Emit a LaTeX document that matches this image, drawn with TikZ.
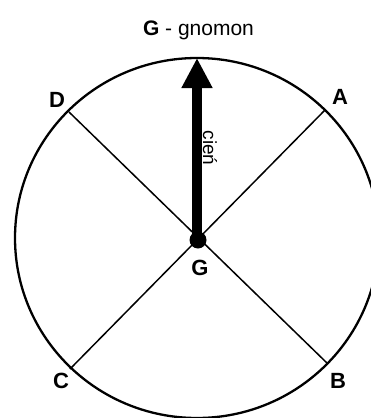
\documentclass[tikz,border=0pt]{standalone}
\usepackage{fontspec}
\setmainfont{Liberation Sans}
\usetikzlibrary{arrows.meta}
\begin{document}
\begin{tikzpicture}[x=1pt,y=-1pt,
  lbl/.style={inner sep=0pt,font=\fontsize{22}{26}\selectfont\bfseries},
  diag/.style={line width=1.5pt},
  rim/.style={line width=2.3pt}]
\useasboundingbox (0,0) rectangle (371,418);
\clip (0,0) rectangle (371,418);
\coordinate (O) at (197,238);
\coordinate (pD) at (69,112);
\coordinate (pA) at (325,110);
\coordinate (pC) at (70,369);
\coordinate (pB) at (328,364);
\coordinate (tip) at (197,58);
\draw[rim] (O) ellipse [x radius=182, y radius=180];
\draw[diag] (pD) -- (pB);
\draw[diag] (pA) -- (pC);
\draw[line width=10pt,-{Triangle[length=30pt,width=29pt]}] (O) -- (tip);
\fill (198,240) circle [radius=8.5];
\node[lbl] (D) at (57,100) {D};
\node[lbl] (A) at (340,97) {A};
\node[lbl] (C) at (61,381) {C};
\node[lbl] (B) at (338,381) {B};
\node[lbl] (G) at (200,268) {G};
\node[inner sep=0pt,anchor=base,font=\fontsize{21}{25}\selectfont] (title) at (198.5,35) {\textbf{G} - gnomon};
\node[inner sep=0pt,rotate=-90,font=\fontsize{19}{23}\selectfont] (cien) at (210,148) {cień};
\end{tikzpicture}
\end{document}
